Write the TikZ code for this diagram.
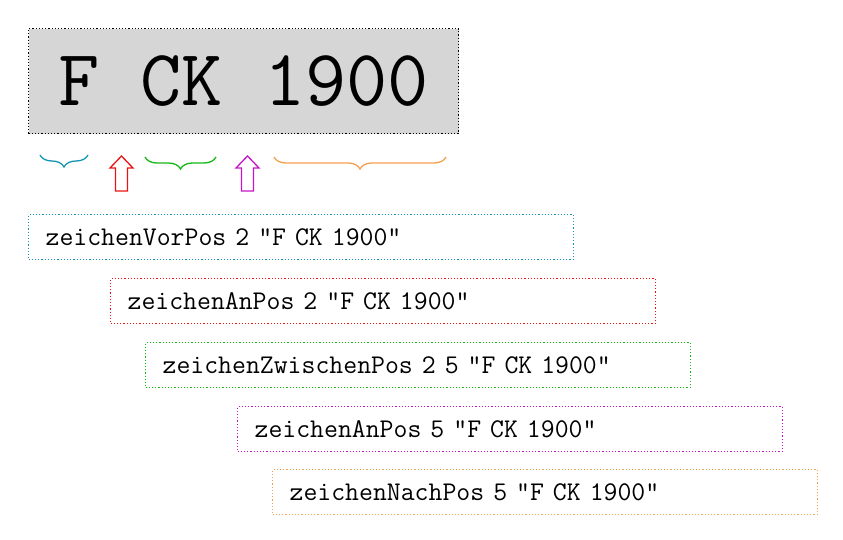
\documentclass[tikz,border=0pt]{standalone}
\usepackage{fontspec}
\usetikzlibrary{decorations.pathreplacing}
\definecolor{ccyan}{RGB}{20,150,180}
\definecolor{cred}{RGB}{235,20,20}
\definecolor{cgreen}{RGB}{20,185,20}
\definecolor{cmag}{RGB}{200,20,200}
\definecolor{corange}{RGB}{245,160,80}
\begin{document}
\begin{tikzpicture}[x=1pt,y=-1pt,
  callbox/.style={draw=#1,dotted,line width=1.2pt,minimum width=545pt,minimum height=45pt,anchor=north west,inner sep=0pt,
    text width=545pt,align=left,font=\ttfamily\fontsize{27}{28}\selectfont},
  brc/.style={draw=#1,line width=1.3pt,decorate,decoration={brace,mirror,amplitude=12pt}},
  uparr/.style={draw=#1,line width=1.3pt}]
\useasboundingbox (0,0) rectangle (843,539);
\node[draw=black,dotted,line width=1.2pt,fill=black!16,minimum width=430pt,minimum height=105pt,anchor=north west,inner sep=0pt,
  font=\ttfamily\fontsize{80}{80}\selectfont] (big) at (28,28) {F CK 1900};
\draw[brc=ccyan] (40,155) -- (88,155);
\draw[brc=cgreen] (145,157) -- (216,157);
\draw[brc=corange] (274,157) -- (446,157);
\draw[uparr=cred] (121.5,156) -- (133,168) -- (127.5,168) -- (127.5,191) -- (115.5,191) -- (115.5,168) -- (110,168) -- cycle;
\draw[uparr=cmag] (247.5,156) -- (259,168) -- (253.5,168) -- (253.5,191) -- (241.5,191) -- (241.5,168) -- (236,168) -- cycle;
\node[callbox=ccyan] (c1) at (28,214) {\hspace*{17pt}zeichenVorPos 2 "F CK 1900"};
\node[callbox=cred] (c2) at (110,278) {\hspace*{17pt}zeichenAnPos 2 "F CK 1900"};
\node[callbox=cgreen] (c3) at (145,342) {\hspace*{17pt}zeichenZwischenPos 2 5 "F CK 1900"};
\node[callbox=cmag] (c4) at (237,406) {\hspace*{17pt}zeichenAnPos 5 "F CK 1900"};
\node[callbox=corange] (c5) at (272,469) {\hspace*{17pt}zeichenNachPos 5 "F CK 1900"};
\end{tikzpicture}
\end{document}
